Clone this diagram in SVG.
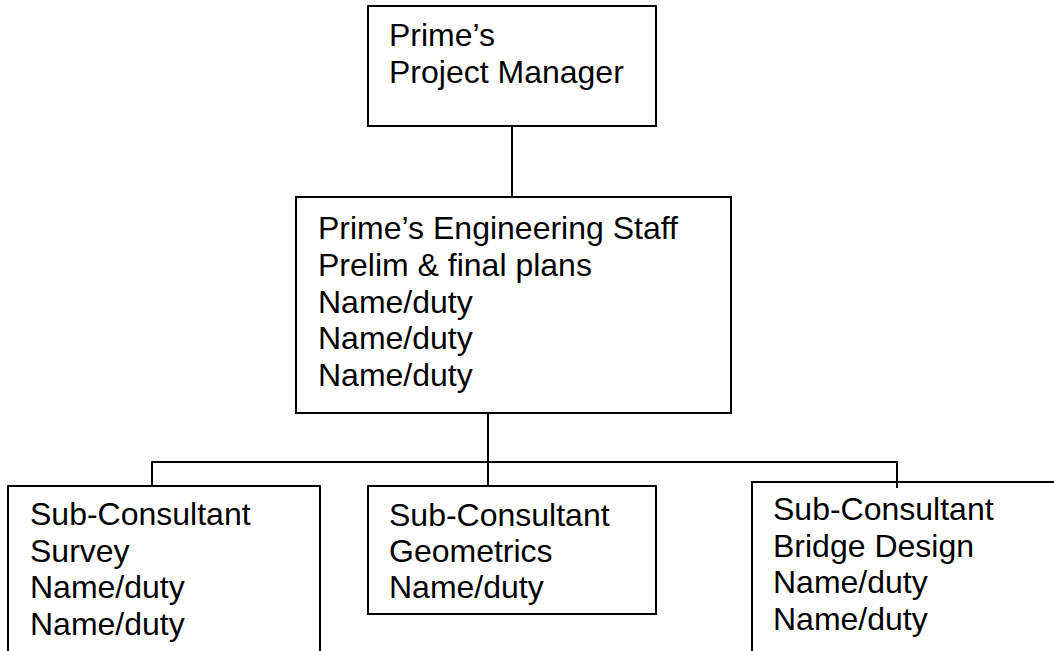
<svg xmlns="http://www.w3.org/2000/svg" width="1054" height="651" viewBox="0 0 1054 651">
<style>
.box{fill:#fff;stroke:#000;stroke-width:2}
.lbl{font-family:"Liberation Sans",Arial,sans-serif;font-size:32px;fill:#000}
.conn{fill:none;stroke:#000;stroke-width:2}
</style>
<rect width="1054" height="651" fill="#fff"/>
<g id="connectors">
<path class="conn" d="M512,126 V197"/>
<path class="conn" d="M488,413 V486"/>
<path class="conn" d="M152,486 V462 H897 V488"/>
</g>
<g id="pm">
<rect class="box" x="368" y="6" width="288" height="120"/>
<text class="lbl" x="389" y="46">Prime’s</text>
<text class="lbl" x="389" y="83">Project Manager</text>
</g>
<g id="eng">
<rect class="box" x="296" y="197" width="435" height="216"/>
<text class="lbl" x="318" y="239">Prime’s Engineering Staff</text>
<text class="lbl" x="318" y="276">Prelim &amp; final plans</text>
<text class="lbl" x="318" y="313">Name/duty</text>
<text class="lbl" x="318" y="349">Name/duty</text>
<text class="lbl" x="318" y="386">Name/duty</text>
</g>
<g id="survey">
<rect class="box" x="8" y="486" width="312" height="180"/>
<text class="lbl" x="30" y="525">Sub-Consultant</text>
<text class="lbl" x="30" y="562">Survey</text>
<text class="lbl" x="30" y="598">Name/duty</text>
<text class="lbl" x="30" y="635">Name/duty</text>
</g>
<g id="geometrics">
<rect class="box" x="368" y="486" width="288" height="128"/>
<text class="lbl" x="389" y="526">Sub-Consultant</text>
<text class="lbl" x="389" y="562">Geometrics</text>
<text class="lbl" x="389" y="598">Name/duty</text>
</g>
<g id="bridge">
<rect class="box" x="752" y="482" width="320" height="190"/>
<text class="lbl" x="773" y="520">Sub-Consultant</text>
<text class="lbl" x="773" y="557">Bridge Design</text>
<text class="lbl" x="773" y="593">Name/duty</text>
<text class="lbl" x="773" y="630">Name/duty</text>
</g>
<path class="conn" d="M897,482 V488"/>
</svg>
